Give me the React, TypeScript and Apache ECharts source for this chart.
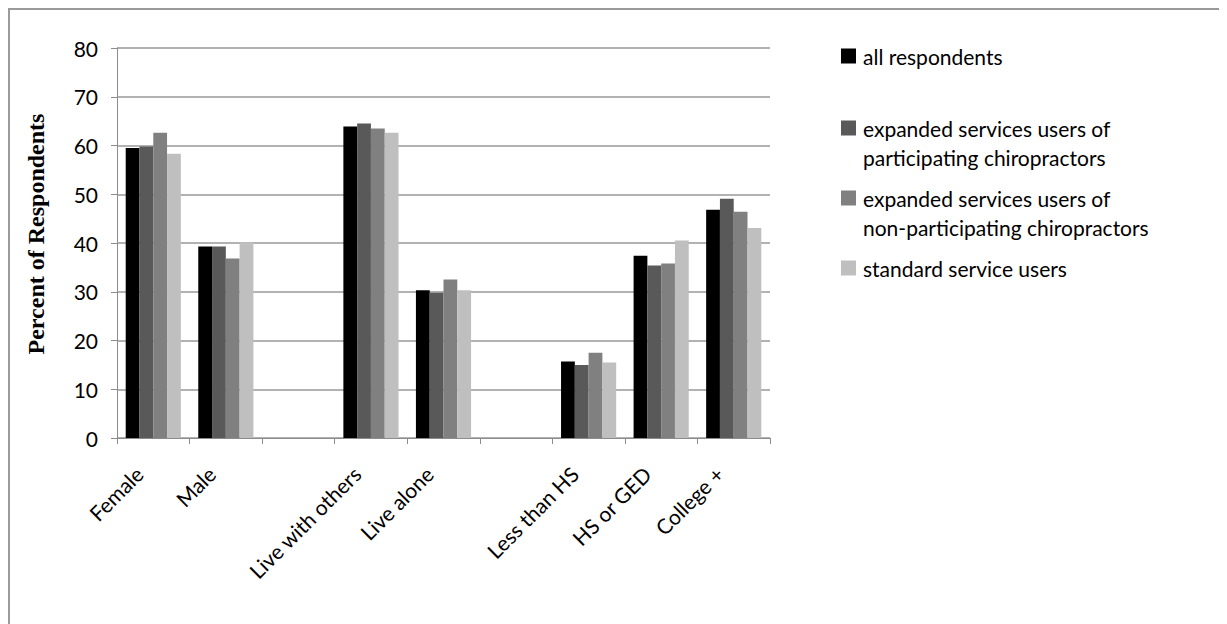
import React, { useEffect, useRef } from "react";
import * as echarts from "echarts";

const categories = ["Female", "Male", "", "Live with others", "Live alone", "", "Less than HS", "HS or GED", "College +"];
const seriesNames = [
  "all respondents",
  "expanded services users of participating chiropractors",
  "expanded services users of non-participating chiropractors",
  "standard service users",
];
const legendLabels = [
  "all respondents",
  "expanded services users of\nparticipating chiropractors",
  "expanded services users of\nnon-participating chiropractors",
  "standard service users",
];
const allRespondents = [59.5, 39.3, null, 63.9, 30.3, null, 15.7, 37.4, 46.8];
const participating = [59.8, 39.3, null, 64.5, 29.8, null, 15.0, 35.4, 49.1];
const nonParticipating = [62.6, 36.8, null, 63.5, 32.5, null, 17.5, 35.8, 46.4];
const standardUsers = [58.3, 40.1, null, 62.6, 30.3, null, 15.5, 40.5, 43.1];
const colors = ["#000000", "#595959", "#808080", "#bfbfbf"];
const yTicks = { min: 0, max: 80, interval: 10 };
const yTitle = "Percent of Respondents";

const FONT = "Lato";

export default function App() {
  const ref = useRef<HTMLDivElement>(null);
  useEffect(() => {
    if (!ref.current) return;
    const chart = echarts.init(ref.current, null, { renderer: "svg" });
    const values = [allRespondents, participating, nonParticipating, standardUsers];
    const legendCenters = [46, 118, 188, 258];
    const legendGraphics: any[] = [];
    seriesNames.forEach((n, i) => {
      legendGraphics.push({
        type: "rect",
        silent: true,
        shape: { x: 831, y: legendCenters[i] - 7.5, width: 15, height: 15 },
        style: { fill: colors[i] },
      });
      legendGraphics.push({
        type: "text",
        silent: true,
        style: {
          x: 853,
          y: legendCenters[i] - 14.5,
          text: legendLabels[i],
          font: `21px ${FONT}`,
          fontFamily: FONT,
          fontSize: 21,
          lineHeight: 29,
          fill: "#000",
          verticalAlign: "top",
          align: "left",
        },
      });
    });
    chart.setOption({
      animation: false,
      backgroundColor: "#ffffff",
      grid: { left: 107, right: 457, top: 38, bottom: 186, containLabel: false },
      graphic: legendGraphics,
      xAxis: {
        type: "category",
        data: categories,
        axisLine: { lineStyle: { color: "#8c8c8c", width: 1 } },
        axisTick: { show: true, length: 6, lineStyle: { color: "#8c8c8c" } },
        axisLabel: {
          interval: 0,
          rotate: 45,
          margin: 18,
          padding: [0, 20, 0, 0],
          fontFamily: FONT,
          fontSize: 21,
          color: "#000",
        },
      },
      yAxis: {
        type: "value",
        min: yTicks.min,
        max: yTicks.max,
        interval: yTicks.interval,
        name: yTitle,
        nameLocation: "middle",
        nameGap: 69,
        nameTextStyle: {
          fontFamily: "Liberation Serif",
          fontWeight: "bold",
          fontSize: 24,
          color: "#000",
          padding: [0, 0, 0, 18],
        },
        axisLine: { show: true, lineStyle: { color: "#8c8c8c", width: 1 } },
        axisTick: { show: true, length: 6, lineStyle: { color: "#8c8c8c" } },
        splitLine: { show: true, lineStyle: { color: "#999999", width: 1.5 } },
        axisLabel: {
          margin: 19,
          fontFamily: FONT,
          fontSize: 21,
          color: "#000",
        },
      },
      series: seriesNames.map((n, i) => ({
        name: n,
        type: "bar",
        data: values[i],
        barGap: "0%",
        barCategoryGap: "24%",
        itemStyle: { color: colors[i] },
      })),
    });
    return () => chart.dispose();
  }, []);
  return (
    <div
      style={{
        width: 1219,
        height: 616,
        boxSizing: "border-box",
        borderTop: "2px solid #9a9a9a",
        borderLeft: "2px solid #9a9a9a",
        background: "#fff",
        overflow: "hidden",
      }}
    >
      <div ref={ref} style={{ width: 1217, height: 614 }} />
    </div>
  );
}
